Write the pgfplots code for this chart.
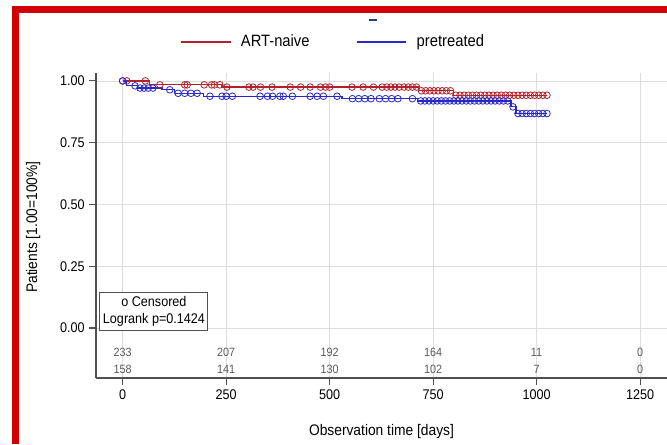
\documentclass[border=0pt]{standalone}
\usepackage{fontspec}
\setmainfont{Liberation Sans}[FakeStretch=0.9]
\usepackage{pgfplots}
\pgfplotsset{compat=1.18}

\definecolor{naive}{RGB}{178,34,44}
\definecolor{pret}{RGB}{40,40,200}
\definecolor{gridc}{RGB}{222,222,222}
\definecolor{spine}{RGB}{80,80,80}
\definecolor{frame}{RGB}{210,0,0}
\definecolor{stray}{RGB}{30,70,130}

\begin{document}
\begin{tikzpicture}[risk/.style={font=\fontsize{9pt}{10pt}\selectfont, text=black!65}]
\useasboundingbox (0,0) rectangle (500.25pt,333pt);
% red frame of the screenshot
\draw[frame, line width=4.8pt, line join=miter] (11.6pt,0pt) -- (11.6pt,325.9pt) -- (500.25pt,325.9pt);
\begin{axis}[
    at={(72pt,49.5pt)}, anchor=south west,
    scale only axis,
    width=428.25pt, height=228.75pt,
    xmin=-64.3, xmax=1315,
    ymin=-0.2024, ymax=1.032,
    axis x line*=bottom, axis y line*=left,
    axis line style={spine, line width=0.8pt},
    tick align=outside, major tick length=5pt,
    tick style={spine, line width=0.8pt},
    xtick={0,250,500,750,1000,1250},
    ytick={0,0.25,0.5,0.75,1},
    grid=major, major grid style={gridc, line width=0.6pt},
    /pgf/number format/assume math mode=true,
    yticklabel style={font=\fontsize{10.5pt}{12pt}\selectfont, /pgf/number format/.cd, fixed, fixed zerofill, precision=2},
    xticklabel style={font=\fontsize{10.5pt}{12pt}\selectfont, /pgf/number format/1000 sep={}},
    xlabel={Observation time [days]},
    ylabel={Patients [1.00=100\%]},
    label style={font=\fontsize{11.5pt}{13pt}\selectfont},
    xlabel style={at={(axis description cs:0.5,-0.177)}, anchor=center},
    ylabel style={at={(axis description cs:-0.110,0.495)}, anchor=center},
    legend style={at={(axis description cs:0.416,1.1016)}, anchor=center, draw=none,
        font=\fontsize{12.3pt}{14pt}\selectfont, legend columns=2,
        /tikz/every odd column/.append style={column sep=5pt},
        /tikz/every even column/.append style={column sep=33pt}},
    legend image code/.code={\draw[#1, line width=1.4pt] (0pt,0pt) -- (37pt,0pt);},
    mark size=2.5pt,
]
% survival steps
\addplot[naive, line width=0.9pt, const plot, mark=none] coordinates {
(0,1.0) (65,0.984) (240,0.975) (715,0.96) (800,0.942) (1025,0.942)};
\addlegendentry{ART-naive}
\addplot[pret, line width=0.9pt, const plot, mark=none] coordinates {
(0,1.0) (10,0.98) (35,0.971) (95,0.964) (125,0.95) (195,0.938) (530,0.928) (712,0.919) (938,0.895) (950,0.868) (1025,0.868)};
\addlegendentry{pretreated}
% censored
\addplot[naive, only marks, mark=o, mark options={line width=0.6pt}, forget plot] coordinates {
(0,1.0) (10,1.0) (55,1.0)
(90,0.984) (150,0.984) (156,0.984) (197,0.984) (215,0.984) (222,0.984) (235,0.984)
(252,0.975) (305,0.975) (315,0.975) (333,0.975) (361,0.975) (405,0.975) (430,0.975) (453,0.975) (478,0.975) (490,0.975) (500,0.975) (554,0.975) (581,0.975) (606,0.975) (627,0.975) (638,0.975) (648,0.975) (658,0.975) (668,0.975) (680,0.975) (690,0.975) (700,0.975) (710,0.975)
(722,0.96) (732,0.96) (742,0.96) (752,0.96) (762,0.96) (772,0.96) (782,0.96) (792,0.96)
(805,0.942) (815,0.942) (825,0.942) (835,0.942) (845,0.942) (855,0.942) (865,0.942) (875,0.942) (885,0.942) (895,0.942) (905,0.942) (915,0.942) (925,0.942) (935,0.942) (945,0.942) (955,0.942) (965,0.942) (975,0.942) (985,0.942) (995,0.942) (1005,0.942) (1015,0.942) (1025,0.942)};
\addplot[pret, only marks, mark=o, mark options={line width=0.6pt}, forget plot] coordinates {
(0,1.0) (30,0.98)
(42,0.971) (52,0.971) (62,0.971) (73,0.971)
(114,0.964)
(134,0.95) (150,0.95) (165,0.95) (180,0.95)
(211,0.938) (240,0.938) (250,0.938) (265,0.938) (332,0.938) (350,0.938) (362,0.938) (380,0.938) (388,0.938) (410,0.938) (453,0.938) (470,0.938) (485,0.938) (518,0.938)
(555,0.928) (570,0.928) (585,0.928) (600,0.928) (620,0.928) (635,0.928) (650,0.928) (665,0.928) (700,0.928)
(720,0.919) (730,0.919) (740,0.919) (750,0.919) (760,0.919) (770,0.919) (780,0.919) (790,0.919) (800,0.919) (810,0.919) (820,0.919) (830,0.919) (840,0.919) (850,0.919) (860,0.919) (870,0.919) (880,0.919) (890,0.919) (900,0.919) (910,0.919) (920,0.919) (930,0.919)
(943,0.895)
(955,0.868) (965,0.868) (975,0.868) (985,0.868) (995,0.868) (1005,0.868) (1015,0.868) (1025,0.868)};
% annotation box
\node[draw=spine, fill=white, line width=0.7pt, align=center, inner sep=2pt,
      minimum width=81pt, minimum height=29pt, font=\fontsize{10.5pt}{12.5pt}\selectfont]
  at (axis cs:75.7,0.067) {o Censored\\Logrank p=0.1424};
% numbers at risk
\node[risk] at (axis cs:0,-0.097) {233};
\node[risk] at (axis cs:250,-0.097) {207};
\node[risk] at (axis cs:500,-0.097) {192};
\node[risk] at (axis cs:750,-0.097) {164};
\node[risk] at (axis cs:1000,-0.097) {11};
\node[risk] at (axis cs:1250,-0.097) {0};
\node[risk] at (axis cs:0,-0.166) {158};
\node[risk] at (axis cs:250,-0.166) {141};
\node[risk] at (axis cs:500,-0.166) {130};
\node[risk] at (axis cs:750,-0.166) {102};
\node[risk] at (axis cs:1000,-0.166) {7};
\node[risk] at (axis cs:1250,-0.166) {0};
\end{axis}
% small stray mark above the legend
\draw[stray, line width=1.2pt] (276.5pt,318pt) -- (283pt,318pt);
\end{tikzpicture}
\end{document}
